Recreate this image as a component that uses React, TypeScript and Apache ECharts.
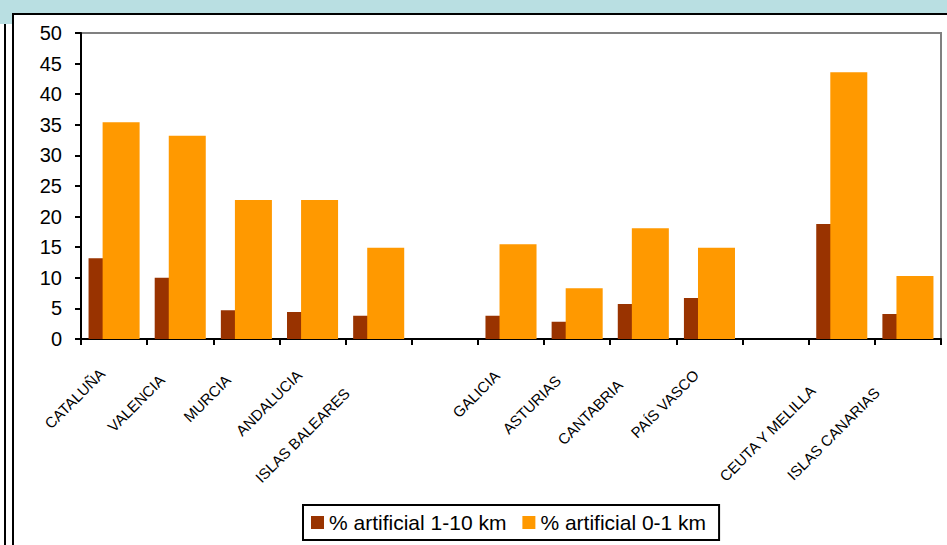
import React, { useEffect, useRef } from "react";
import * as echarts from "echarts";

const categories = [
  "CATALUÑA",
  "VALENCIA",
  "MURCIA",
  "ANDALUCIA",
  "ISLAS BALEARES",
  "",
  "GALICIA",
  "ASTURIAS",
  "CANTABRIA",
  "PAÍS VASCO",
  "",
  "CEUTA Y MELILLA",
  "ISLAS CANARIAS",
];
const artificial1to10 = [13.2, 10.0, 4.7, 4.4, 3.8, null, 3.8, 2.8, 5.7, 6.7, null, 18.8, 4.1];
const artificial0to1 = [35.4, 33.2, 22.7, 22.7, 14.9, null, 15.5, 8.3, 18.1, 14.9, null, 43.6, 10.3];
const seriesNames = ["% artificial 1-10 km", "% artificial 0-1 km"];
const yTicks = { min: 0, max: 50, interval: 5 };

// label offsets along the rotated text direction (style only)
const labelShift = [17, 26, 26, 19, 45, 0, 20, 27, 33, 19, 0, 41, 44];

const FONT = "'Liberation Sans', Arial, sans-serif";

export default function App() {
  const ref = useRef<HTMLDivElement>(null);
  useEffect(() => {
    if (!ref.current) return;
    const chart = echarts.init(ref.current, undefined, { renderer: "svg" });
    const option: any = {
      animation: false,
      backgroundColor: "#ffffff",
      grid: {
        left: 81,
        right: 6,
        top: 33,
        bottom: 206,
        show: true,
        borderColor: "#808080",
        borderWidth: 2,
        containLabel: false,
      },
      graphic: [
        { type: "rect", shape: { x: 0, y: 0, width: 947, height: 14 }, style: { fill: "#B9DFE2" }, silent: true },
        { type: "rect", shape: { x: 0, y: 14, width: 12, height: 10 }, style: { fill: "#B9DFE2" }, silent: true },
        { type: "rect", shape: { x: 12, y: 13, width: 935, height: 2 }, style: { fill: "#000" }, silent: true },
        { type: "rect", shape: { x: 12, y: 13, width: 2, height: 532 }, style: { fill: "#000" }, silent: true },
        { type: "rect", shape: { x: 4, y: 24, width: 2, height: 521 }, style: { fill: "#000" }, silent: true },
      ],
      legend: {
        left: 303,
        top: 505,
        orient: "horizontal",
        itemWidth: 13,
        itemHeight: 13,
        itemGap: 16,
        padding: [7, 13, 7, 8],
        borderColor: "#000",
        borderWidth: 2,
        backgroundColor: "#fff",
        icon: "rect",
        textStyle: { fontSize: 21, color: "#000", fontFamily: FONT },
        data: seriesNames,
      },
      xAxis: {
        type: "category",
        data: categories.map((c, i) => ({
          value: c,
          textStyle: { padding: [0, labelShift[i], 0, 0] },
        })),
        axisLine: { show: true, lineStyle: { color: "#000", width: 2 } },
        axisTick: { show: true, inside: false, length: 6, lineStyle: { color: "#000", width: 2 } },
        axisLabel: {
          interval: 0,
          rotate: 45,
          margin: 20,
          fontSize: 15,
          color: "#000",
          fontFamily: FONT,
        },
        splitLine: { show: false },
      },
      yAxis: {
        type: "value",
        min: yTicks.min,
        max: yTicks.max,
        interval: yTicks.interval,
        axisLine: { show: true, lineStyle: { color: "#000", width: 2 } },
        axisTick: { show: true, inside: false, length: 6, lineStyle: { color: "#000", width: 2 } },
        axisLabel: { fontSize: 20, color: "#000", margin: 19, fontFamily: FONT },
        splitLine: { show: false },
      },
      series: [
        {
          name: seriesNames[0],
          type: "bar",
          data: artificial1to10,
          barWidth: 37,
          barGap: "-62%",
          itemStyle: { color: "#993300" },
        },
        {
          name: seriesNames[1],
          type: "bar",
          data: artificial0to1,
          barWidth: 37,
          barGap: "-62%",
          itemStyle: { color: "#FF9900" },
        },
      ],
    };
    chart.setOption(option);
    return () => chart.dispose();
  }, []);
  return (
    <div
      ref={ref}
      style={{ position: "fixed", left: 0, top: 0, width: 947, height: 545, background: "#fff" }}
    />
  );
}
